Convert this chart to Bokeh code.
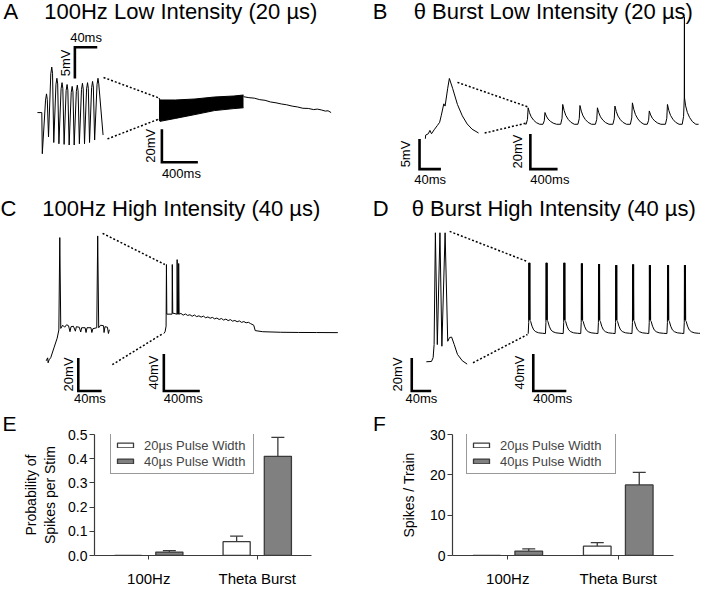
import math
from bokeh.plotting import figure
from bokeh.layouts import row, column
from bokeh.models import (Range1d, Label, FixedTicker, NumeralTickFormatter,
                          ColumnDataSource, Whisker, TeeHead, Legend, LegendItem)
from bokeh.embed import file_html
from bokeh.resources import INLINE

FONT = "Liberation Sans"

# ======================= DATA =======================
TITLES = {
    "A": "100Hz Low Intensity (20 µs)",
    "B": "θ Burst Low Intensity (20 µs)",
    "C": "100Hz High Intensity (40 µs)",
    "D": "θ Burst High Intensity (40 µs)",
}

# ---- Panel A: 100 Hz, low intensity (ms, mV re. rest) ----
A_in_t = [0, 7.8, 8.7,
          14.5, 16.2, 17.6, 19.8,
          23.9, 25.6, 27.0, 29.2,
          33.1, 34.8, 36.2, 38.4,
          42.3, 44.0, 45.4, 47.7,
          51.3, 53.0, 54.4, 56.7,
          60.4, 62.1, 63.5, 65.7,
          69.6, 71.3, 72.7, 75.0,
          78.8, 80.5, 81.9, 84.2,
          87.9, 89.6, 91.0, 93.2,
          96.9, 98.6, 100.0, 102.3,
          106.6, 108.3, 109.7, 117.4]
A_in_v = [0, 0, -6.6,
          2.0, 3.0, 2.1, -3.9,
          6.2, 7.3, 6.3, -4.8,
          4.5, 5.5, 4.6, -5.0,
          3.8, 4.8, 3.9, -5.1,
          3.5, 4.5, 3.6, -5.2,
          3.2, 4.2, 3.3, -5.2,
          3.4, 4.4, 3.5, -5.0,
          3.7, 4.7, 3.8, -5.0,
          3.8, 4.8, 3.9, -4.8,
          4.0, 5.0, 4.1, -4.4,
          4.5, 5.5, 4.6, -3.6]
A_band_t = [0, 11, 184, 400, 616, 832, 940]
A_band_hi = [8.8, 7.6, 7.6, 8.2, 9.4, 10.0, 10.6]
A_band_lo = [-4.1, -5.3, -3.5, -1.2, 1.2, 2.4, 2.9]
A_tail_t = [940, 1000, 1060, 1121, 1180, 1240, 1301, 1360, 1420, 1481, 1540, 1600,
            1661, 1720, 1760, 1805, 1850, 1880, 1914]
A_tail_v = [9.6, 9.0, 8.7, 7.8, 7.4, 6.4, 5.9, 5.2, 4.7, 3.9, 3.4, 2.6,
            2.5, 1.8, 2.1, 1.6, 0.9, 1.1, 0.0]

# ---- Panel B: theta burst, low intensity ----
B_in_t = [0, 0.5, 5.5, 8.5, 11.5, 16.4, 22.4, 26.7, 29.6, 34.5, 36.9, 41.8, 44.9,
          50.9, 60.0, 69.1, 78.2, 87.3, 99.5]
B_in_v = [-0.3, 0.3, 0.53, 1.08, 0.53, 1.18, 1.89, 2.42, 3.5, 5.48, 5.11, 8.06, 9.68,
          8.06, 5.37, 3.5, 2.15, 1.29, 0.65]
B_burst_t = [39, 286, 547, 800, 1057, 1314, 1571, 1819, 2086, 2333]
B_burst_pk = [9.4, 6.7, 11.3, 10.7, 9.4, 10.4, 12.2, 7.6, 11.3, 15.0]
B_shape_dt = [-30, -10, 0, 20, 45, 80, 120, 170]
B_shape_f = [0, 0.3, 1.0, 0.7, 0.45, 0.25, 0.1, 0.0]
B_spike_burst = 9
B_spike_mv = 61
B_end_t = 2543

# ---- Panel C: 100 Hz, high intensity ----
C_in_t = [0, 2.5, 3.3, 5, 7.8, 13.3, 18.8, 21.7, 23.3, 25, 28.3, 31.7, 35, 38.3, 40.8,
          42.5, 46.7, 50, 51.7, 56.7, 59.2, 60.8, 66.7, 68.3, 70, 76.7, 78.3, 80, 86.7,
          88.3, 90, 93.3, 98.3, 99.2, 100.8, 105, 106.7, 108.3]
C_in_v = [0, 1.8, -1.2, 0.6, 1.9, 7.8, 13.7, 18.6, 74.5, 19.6, 21.5, 20.3, 21.8, 21.2,
          17.6, 20.6, 20.9, 17.9, 20.6, 20.3, 17.4, 20.0, 20.0, 17.1, 20.0, 20.0, 17.1,
          19.4, 20.0, 75.5, 20.0, 21.5, 21.2, 17.1, 20.6, 20.3, 16.5, 18.8]
C_main_t = [0, 14, 25, 29, 33, 92, 94, 99, 146, 148, 153, 163, 165, 170,
            190, 215, 240, 265, 290, 315, 340, 365, 390, 415, 440, 465, 490, 515, 540,
            565, 590, 615, 640, 665, 690, 715, 740, 765, 790, 815, 840, 865, 890, 915,
            940, 962, 1000, 1016, 1100, 1300, 1500, 1700, 1935]
C_main_v = [0, 2.0, 8.0, 74.7, 21.0, 21.0, 74.7, 22.1, 21.0, 80.0, 21.0, 21.0, 75.8, 21.0,
            21.8, 19.9, 21.2, 19.6, 20.4, 18.7, 20.1, 18.3, 19.2, 17.8, 18.9, 17.1, 18.0,
            16.6, 17.5, 15.9, 16.8, 15.2, 16.3, 14.6, 15.7, 14.0, 15.1, 13.4, 14.2, 12.8,
            13.7, 12.1, 13.0, 11.6, 12.2, 10.9, 9.0, 3.2, 2.0, 1.4, 1.2, 1.1, 1.0]

# ---- Panel D: theta burst, high intensity ----
D_in_t = [0, 10.6, 14, 16, 18.6, 22.6, 28, 32, 38.6, 44, 48, 52, 57.4, 64, 74, 84]
D_in_v = [0, 0.2, 2.5, 10.4, 78, 10.4, 78, 9.4, 78, 12.4, 14.7, 14.9, 10.4, 4.5, 0.6, -1.4]
D_burst_t = [3.5, 212, 427, 639, 847, 1055, 1259, 1462, 1682, 1886]
D_burst_top = [76.5, 76.5, 76.5, 75.8, 75.1, 74.0, 74.7, 74.0, 74.0, 74.0]
D_shape_dt = [-6, 0, 2, 5, 8, 11, 14, 17, 24, 40, 60, 85, 120, 170]
D_shape_v = [0, 12, None, 15, None, 15, None, 14, 13, 8, 4, 2, 0.8, 0.3]  # None = spike top
D_end_t = 2082

# ---- Panels E / F: summary bars ----
CATS = ["100Hz", "Theta Burst"]
SERIES = ["20µs Pulse Width", "40µs Pulse Width"]
E_20 = [0.0, 0.057]
E_20_upper = [0.0, 0.080]
E_40 = [0.014, 0.41]
E_40_upper = [0.020, 0.488]
E_TICKS = [0.0, 0.1, 0.2, 0.3, 0.4, 0.5]
F_20 = [0.0, 2.3]
F_20_upper = [0.0, 3.2]
F_40 = [1.1, 17.5]
F_40_upper = [1.65, 20.6]
F_TICKS = [0, 10, 20, 30]

# ======================= HELPERS =======================
W = 350
MID = 0.35  # distance from alphabetic baseline to text middle, in font sizes


def trace_fig(h_ref, h_px):
    p = figure(width=W, height=h_px, x_range=Range1d(0, 360), y_range=Range1d(h_ref, 0),
               output_backend="svg", toolbar_location=None, x_axis_type=None,
               y_axis_type=None, min_border=0, min_border_left=0, min_border_right=0,
               min_border_top=0, min_border_bottom=0, frame_align=False)
    p.outline_line_color = None
    return p


def to_px(t, v, g):
    x0, y0, sx, sy = g
    return [x0 + a * sx for a in t], [y0 - b * sy for b in v]


def draw(p, t, v, g, lw=1.0):
    xs, ys = to_px(t, v, g)
    p.line(xs, ys, line_color="black", line_width=lw)


def text(p, x, y, s, size, align="left", rotated=False):
    """x, y: position of the alphabetic baseline (panel px, y downwards)."""
    if rotated:
        x = x - MID * size
        angle = math.pi / 2
    else:
        y = y - MID * size
        angle = 0.0
    p.add_layout(Label(x=x, y=y, text=s, text_font=FONT, text_font_size=f"{size}px",
                       text_align=align, text_baseline="middle", angle=angle,
                       text_color="black"))


def title(p, letter, lx, tx, by):
    text(p, lx, by, letter, 22)
    text(p, tx, by, TITLES[letter], 22)


def scalebar(p, cx, cy, ms, mv, g, hl, vl, gamma=False):
    _, _, sx, sy = g
    w = ms * sx
    h = mv * sy
    if gamma:
        xs, ys = [cx + w, cx, cx], [cy, cy, cy + h]
        vcy = cy + h / 2
    else:
        xs, ys = [cx, cx, cx + w], [cy - h, cy, cy]
        vcy = cy - h / 2
    p.line(xs, ys, line_color="black", line_width=2.6, line_join="miter")
    htxt, hy, halign = hl
    hx = cx + w / 2 if halign == "center" else cx
    text(p, hx, hy, htxt, 13, align=halign)
    vtxt, vx = vl
    text(p, vx, vcy, vtxt, 13, align="center", rotated=True)


def dotted(p, x0, y0, x1, y1):
    p.line([x0, x1], [y0, y1], line_color="black", line_width=1.5, line_dash="2 2")


# ======================= PANEL A =======================
GA_IN = (38, 115, 0.575, 6.4)
GA_MAIN = (163, 115, 0.0925, 1.7)
pA = trace_fig(197, 192)
title(pA, "A", 3, 45, 18.8)
draw(pA, A_in_t, A_in_v, GA_IN)
bx, bhi = to_px(A_band_t, A_band_hi, GA_MAIN)
_, blo = to_px(A_band_t, A_band_lo, GA_MAIN)
pA.varea(x=bx, y1=bhi, y2=blo, fill_color="black")
pA.line(bx, bhi, line_color="black", line_width=1)
pA.line(bx, blo, line_color="black", line_width=1)
draw(pA, A_tail_t, A_tail_v, GA_MAIN)
dotted(pA, 106, 79, 163, 100)
dotted(pA, 110, 142, 162, 122)
scalebar(pA, 76.5, 48, 40, 5, GA_IN, ("40ms", 43, "center"), ("5mV", 71), gamma=True)
scalebar(pA, 166, 166, 400, 20, GA_MAIN, ("400ms", 182.5, "left"), ("20mV", 158.5))

# ======================= PANEL B =======================
GB_IN = (77, 140, 0.55, 6.2)
GB_MAIN = (180, 127, 0.07, 1.8)
pB = trace_fig(197, 192)
title(pB, "B", 23, 65, 18.8)
draw(pB, B_in_t, B_in_v, GB_IN)
bt2, bv2 = [0.0], [0.0]
for i, (bt, a) in enumerate(zip(B_burst_t, B_burst_pk)):
    for dt, f in zip(B_shape_dt, B_shape_f):
        bt2.append(bt + dt)
        bv2.append(a * f)
        if i == B_spike_burst and dt == 0:
            bt2 += [bt + 2, bt + 4]
            bv2 += [B_spike_mv, a]
bt2.append(B_end_t)
bv2.append(0.0)
draw(pB, bt2, bv2, GB_MAIN)
dotted(pB, 110, 84, 182, 109)
dotted(pB, 138, 136, 180, 126)
scalebar(pB, 71, 173, 40, 5, GB_IN, ("40ms", 188, "center"), ("5mV", 61.5))
scalebar(pB, 185, 173, 400, 20, GB_MAIN, ("400ms", 188, "left"), ("20mV", 176.5))

# ======================= PANEL C =======================
GC_IN = (47, 173, 0.6, 1.7)
GC_MAIN = (168, 145, 0.0925, 0.95)
pC = trace_fig(221, 215)
title(pC, "C", 0, 43, 23.7)
draw(pC, C_in_t, C_in_v, GC_IN)
draw(pC, C_main_t, C_main_v, GC_MAIN)
dotted(pC, 105, 42, 169, 74)
dotted(pC, 115, 177, 167, 145)
scalebar(pC, 80, 204, 40, 20, GC_IN, ("40ms", 216.5, "center"), ("20mV", 75))
scalebar(pC, 168, 204, 400, 40, GC_MAIN, ("400ms", 216.5, "left"), ("40mV", 162))

# ======================= PANEL D =======================
GD_IN = (78, 174, 0.5, 1.7)
GD_MAIN = (183, 145, 0.085, 0.95)
pD = trace_fig(221, 215)
title(pD, "D", 23, 63, 23.7)
draw(pD, D_in_t, D_in_v, GD_IN)
d_t, d_v = [0.0], [0.0]
for bt, top in zip(D_burst_t, D_burst_top):
    for dt, s in zip(D_shape_dt, D_shape_v):
        d_t.append(bt + dt)
        d_v.append(top if s is None else s)
d_t.append(D_end_t)
d_v.append(d_v[-1])
draw(pD, d_t, d_v, GD_MAIN)
dotted(pD, 102, 40, 182, 71)
dotted(pD, 126, 175, 182, 146)
scalebar(pD, 63, 204, 40, 20, GD_IN, ("40ms", 216.5, "center"), ("20mV", 53))
scalebar(pD, 188, 204, 400, 40, GD_MAIN, ("400ms", 216.5, "left"), ("40mV", 178))

# ======================= PANELS E / F =======================
EDGE = "#3a3a3a"
GRAY = "#808080"
OFF = 0.19
BW = 0.25
BAR_H = 179
B_TOP = 27
B_BOT = 31
X0, X1 = -0.5, 1.5


def bar_fig(letter, letter_x, v20, u20, v40, u40, ymax, ticks, fmt, ylabel,
            bl, br, leg_x, label_w, ylabel_standoff):
    fw = W - bl - br
    fh = BAR_H - B_TOP - B_BOT
    p = figure(frame_width=fw, frame_height=fh,
               x_range=Range1d(X0, X1), y_range=Range1d(0, ymax),
               output_backend="svg", toolbar_location=None, frame_align=False,
               min_border_left=bl, min_border_right=br, min_border_top=B_TOP,
               min_border_bottom=B_BOT, title=letter)
    p.outline_line_color = None
    p.grid.visible = False
    # panel letter as the plot title, shifted left past the frame
    p.title.text_font = FONT
    p.title.text_font_size = "21px"
    p.title.text_font_style = "normal"
    p.title.text_color = "black"
    p.title.align = "left"
    p.title.offset = letter_x - bl
    p.title.standoff = 0

    xs = list(range(len(CATS)))
    x20 = [x - OFF for x in xs]
    x40 = [x + OFF for x in xs]
    r20 = p.vbar(x=x20, top=v20, width=BW, fill_color="white", line_color=EDGE,
                 line_width=1.3)
    r40 = p.vbar(x=x40, top=v40, width=BW, fill_color=GRAY, line_color=EDGE,
                 line_width=1.3)
    bx, lo, hi = [], [], []
    for xx, vv, uu in list(zip(x20, v20, u20)) + list(zip(x40, v40, u40)):
        if uu > 0:
            bx.append(xx)
            lo.append(vv)
            hi.append(uu)
    src = ColumnDataSource(dict(x=bx, lo=lo, hi=hi))
    p.add_layout(Whisker(source=src, base="x", lower="lo", upper="hi",
                         line_color=EDGE, line_width=1.3, lower_head=None,
                         upper_head=TeeHead(size=13, line_color=EDGE, line_width=1.3)))
    leg = Legend(items=[LegendItem(label=SERIES[0], renderers=[r20]),
                        LegendItem(label=SERIES[1], renderers=[r40])],
                 location=(leg_x, 81), orientation="vertical",
                 label_text_font=FONT, label_text_font_size="13px",
                 glyph_width=20, glyph_height=6, label_height=16, label_width=label_w,
                 label_standoff=9, spacing=0, padding=4, margin=0,
                 border_line_color="#333333", border_line_width=1,
                 background_fill_color="white", background_fill_alpha=1.0)
    p.add_layout(leg)

    xa = p.xaxis[0]
    xa.ticker = FixedTicker(ticks=xs)
    xa.major_label_overrides = {i: c for i, c in enumerate(CATS)}
    xa.major_tick_out = 4
    xa.major_tick_in = 0
    xa.minor_tick_line_color = None
    xa.axis_line_color = EDGE
    xa.major_tick_line_color = EDGE
    xa.axis_line_width = 1.2
    xa.major_label_text_font = FONT
    xa.major_label_text_font_size = "15px"
    xa.major_label_text_color = "black"
    xa.major_label_standoff = 10

    ya = p.yaxis[0]
    ya.ticker = FixedTicker(ticks=ticks)
    ya.formatter = NumeralTickFormatter(format=fmt)
    ya.major_tick_out = 5
    ya.major_tick_in = 0
    ya.minor_tick_line_color = None
    ya.axis_line_color = EDGE
    ya.major_tick_line_color = EDGE
    ya.axis_line_width = 1.2
    ya.major_label_text_font = FONT
    ya.major_label_text_font_size = "14px"
    ya.major_label_text_color = "black"
    ya.major_label_standoff = 2
    ya.axis_label = ylabel
    ya.axis_label_text_font = FONT
    ya.axis_label_text_font_size = "14px"
    ya.axis_label_text_font_style = "normal"
    ya.axis_label_text_color = "black"
    ya.axis_label_standoff = ylabel_standoff
    return p


pE = bar_fig("E", 2, E_20, E_20_upper, E_40, E_40_upper, 0.5, E_TICKS, "0.0",
             "Probability of\nSpikes per Stim", 94, 39, 16, 105, 7)
pF = bar_fig("F", 22.4, F_20, F_20_upper, F_40, F_40_upper, 30, F_TICKS, "0",
             "Spikes / Train", 102, 27, 14, 111, 10)

layout = column(row(pA, pB), row(pC, pD), row(pE, pF))
open("out.html", "w").write(file_html(layout, INLINE))
